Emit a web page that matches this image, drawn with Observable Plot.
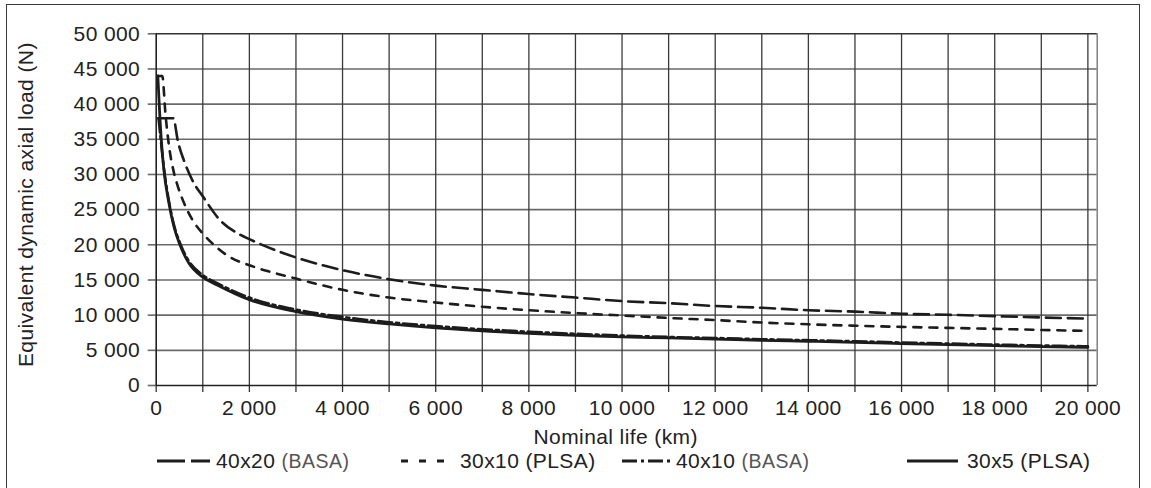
<!DOCTYPE html>
<html>
<head>
<meta charset="utf-8">
<script src="https://cdn.jsdelivr.net/npm/d3@7"></script>
<script src="https://cdn.jsdelivr.net/npm/@observablehq/plot@0.6"></script>
<style>
  html, body { margin: 0; padding: 0; background: #fff; }
  #wrap { position: relative; width: 1151px; height: 488px; overflow: hidden; background: #fff;
          font-family: "Liberation Sans", Arial, sans-serif; color: #222; }
  #border { position: absolute; left: 6px; top: 4px; width: 1134px; height: 520px; border: 1.5px solid #3a3a3a; box-sizing: border-box; }
  #chart { position: absolute; left: 0; top: 0; }
  .lg-line { position: absolute; top: 451px; }
  .lg-text { position: absolute; top: 449px; font-size: 21px; line-height: 24px; letter-spacing: 0.4px; white-space: nowrap; color: #222; }
  .lg-text .soft { font-size: 19.5px; color: #555; letter-spacing: 0.5px; }
</style>
</head>
<body>
<div id="wrap">
  <div id="border"></div>
  <div id="chart"></div>
  <div id="legend"></div>
</div>
<script>
// ---- data ----
const seriesNames = ["40x20 (BASA)", "30x10 (PLSA)", "40x10 (BASA)", "30x5 (PLSA)"];

const km40x20 = [45, 365, 470, 600, 807, 1000, 1345, 1810, 2000, 3000, 4000, 5000, 6000, 7000, 8000, 9000, 10000, 11000, 12000, 13000, 14000, 15000, 16000, 17000, 18000, 19000, 20000];
const load40x20 = [38000, 38000, 34600, 31900, 28800, 26900, 23700, 21400, 20800, 18200, 16400, 15100, 14200, 13600, 13000, 12500, 12000, 11700, 11300, 11050, 10700, 10500, 10200, 10050, 9860, 9670, 9520];

const km30x10 = [35, 130, 200, 272, 379, 451, 593, 773, 988, 1273, 1595, 2000, 3000, 4000, 5000, 6000, 7000, 8000, 9000, 10000, 11000, 12000, 13000, 14000, 15000, 16000, 17000, 18000, 19000, 20000];
const load30x10 = [44000, 44000, 38500, 34200, 30300, 28600, 26000, 23600, 21700, 19800, 18200, 17100, 15200, 13600, 12500, 11800, 11200, 10700, 10300, 9950, 9600, 9300, 8950, 8700, 8500, 8330, 8190, 8050, 7900, 7760];

const km40x10 = [50, 100, 164, 271, 379, 522, 700, 1000, 1309, 2000, 3000, 4000, 5000, 6000, 7000, 8000, 9000, 10000, 11000, 12000, 13000, 14000, 15000, 16000, 17000, 18000, 19000, 20000];
const load40x10 = [38000, 34800, 31000, 26300, 22900, 20100, 17700, 15700, 14550, 12500, 10800, 9750, 9000, 8450, 8000, 7650, 7350, 7100, 6900, 6750, 6580, 6440, 6290, 6110, 5960, 5820, 5680, 5580];

const km30x5 = [35, 80, 120, 164, 271, 379, 522, 700, 1000, 1309, 2000, 3000, 4000, 5000, 6000, 7000, 8000, 9000, 10000, 11000, 12000, 13000, 14000, 15000, 16000, 17000, 18000, 19000, 20000];
const load30x5 = [44000, 38000, 34000, 30700, 26000, 22600, 19800, 17400, 15400, 14300, 12200, 10500, 9450, 8750, 8200, 7780, 7400, 7140, 6900, 6760, 6600, 6430, 6290, 6140, 5960, 5800, 5670, 5520, 5430];

const yTicks = [0, 5000, 10000, 15000, 20000, 25000, 30000, 35000, 40000, 45000, 50000];
const xTicks = [0, 1000, 2000, 3000, 4000, 5000, 6000, 7000, 8000, 9000, 10000, 11000, 12000, 13000, 14000, 15000, 16000, 17000, 18000, 19000, 20000];
const xLabelTicks = [0, 2000, 4000, 6000, 8000, 10000, 12000, 14000, 16000, 18000, 20000];
const xMax = 20200;
const yMax = 50000;
const xTitle = "Nominal life (km)";
const yTitle = "Equivalent dynamic axial load (N)";

// ---- build rows ----
const rows = (name, xs, ys) => xs.map((x, i) => ({series: name, km: x, load: ys[i]}));
const d40x20 = rows(seriesNames[0], km40x20, load40x20);
const d30x10 = rows(seriesNames[1], km30x10, load30x10);
const d40x10 = rows(seriesNames[2], km40x10, load40x10);
const d30x5 = rows(seriesNames[3], km30x5, load30x5);

const fmt = d => d3.format(",")(d).replace(/,/g, " ");
const ink = "#1c1c1c";
const FS = 21;

const chart = Plot.plot({
  width: 1151,
  height: 445,
  marginLeft: 155.7,
  marginRight: 54.3,
  marginTop: 33.3,
  marginBottom: 60,
  x: {domain: [0, xMax]},
  y: {domain: [0, yMax]},
  style: {fontFamily: "Liberation Sans, Arial, sans-serif", fontSize: FS + "px", color: "#222", background: "transparent", overflow: "visible", letterSpacing: "0.4px"},
  marks: [
    Plot.ruleY(yTicks.filter(d => d > 0 && d < yMax), {y: d => d, stroke: "#6a6a6a", strokeWidth: 1.6}),
    Plot.ruleX(xTicks.filter(d => d > 0), {x: d => d, stroke: "#3a3a3a", strokeWidth: 1.3}),
    Plot.ruleX([xMax], {x: d => d, stroke: "#777", strokeWidth: 1.4}),
    Plot.ruleY([yMax], {y: d => d, stroke: "#333", strokeWidth: 1.6}),
    Plot.axisY({ticks: yTicks, tickSize: 8, tickPadding: 8, tickFormat: fmt, label: null, stroke: "#6a6a6a", strokeWidth: 1.6, fontSize: FS}),
    Plot.axisX({ticks: xTicks, tickSize: 7, tickPadding: 8, tickFormat: d => xLabelTicks.includes(d) ? fmt(d) : "", label: null, stroke: "#333", strokeWidth: 1.3, fontSize: FS}),
    Plot.ruleX([0], {x: d => d, stroke: "#222", strokeWidth: 1.6}),
    Plot.ruleY([0], {y: d => d, stroke: "#222", strokeWidth: 1.6}),
    Plot.line(d40x20, {x: "km", y: "load", stroke: ink, strokeWidth: 2.6, strokeDasharray: "15,7", curve: "monotone-x"}),
    Plot.line(d30x10, {x: "km", y: "load", stroke: ink, strokeWidth: 2.6, strokeDasharray: "8,8", curve: "monotone-x"}),
    Plot.line(d40x10, {x: "km", y: "load", stroke: ink, strokeWidth: 2.6, strokeDasharray: "14,4,3,4", curve: "monotone-x"}),
    Plot.line(d30x5, {x: "km", y: "load", stroke: ink, strokeWidth: 2.8, curve: "monotone-x"}),
    Plot.text([xTitle], {frameAnchor: "bottom", textAnchor: "middle", lineAnchor: "middle", dy: 52, dx: -11, fontSize: FS, fill: "#222"}),
    Plot.text([yTitle], {frameAnchor: "left", textAnchor: "middle", lineAnchor: "middle", rotate: -90, dx: -130, dy: -5, fontSize: FS, fill: "#222"})
  ]
});
document.getElementById("chart").appendChild(chart);

// ---- legend (below the plot) ----
const legendItems = [
  {name: seriesNames[0], dash: "28,6", lineLeft: 157, lineW: 53, textLeft: 216},
  {name: seriesNames[1], dash: "7,11", lineLeft: 401, lineW: 44, textLeft: 460},
  {name: seriesNames[2], dash: "15,4,3,4", lineLeft: 622, lineW: 50, textLeft: 676},
  {name: seriesNames[3], dash: null, lineLeft: 907, lineW: 51, textLeft: 967}
];
const legend = document.getElementById("legend");
legendItems.forEach(it => {
  const ns = "http://www.w3.org/2000/svg";
  const s = document.createElementNS(ns, "svg");
  s.setAttribute("class", "lg-line");
  s.setAttribute("width", it.lineW);
  s.setAttribute("height", 20);
  s.style.left = it.lineLeft + "px";
  const l = document.createElementNS(ns, "line");
  l.setAttribute("x1", 0); l.setAttribute("x2", it.lineW);
  l.setAttribute("y1", 10); l.setAttribute("y2", 10);
  l.setAttribute("stroke", ink); l.setAttribute("stroke-width", 2.8);
  if (it.dash) l.setAttribute("stroke-dasharray", it.dash);
  s.appendChild(l);
  legend.appendChild(s);
  const t = document.createElement("div");
  t.className = "lg-text";
  t.style.left = it.textLeft + "px";
  const m = it.name.match(/^(\S+)\s+(.*)$/);
  if (m[2].includes("BASA")) {
    t.innerHTML = m[1] + " <span class='soft'>" + m[2] + "</span>";
  } else {
    t.textContent = it.name;
  }
  legend.appendChild(t);
});
</script>
</body>
</html>
